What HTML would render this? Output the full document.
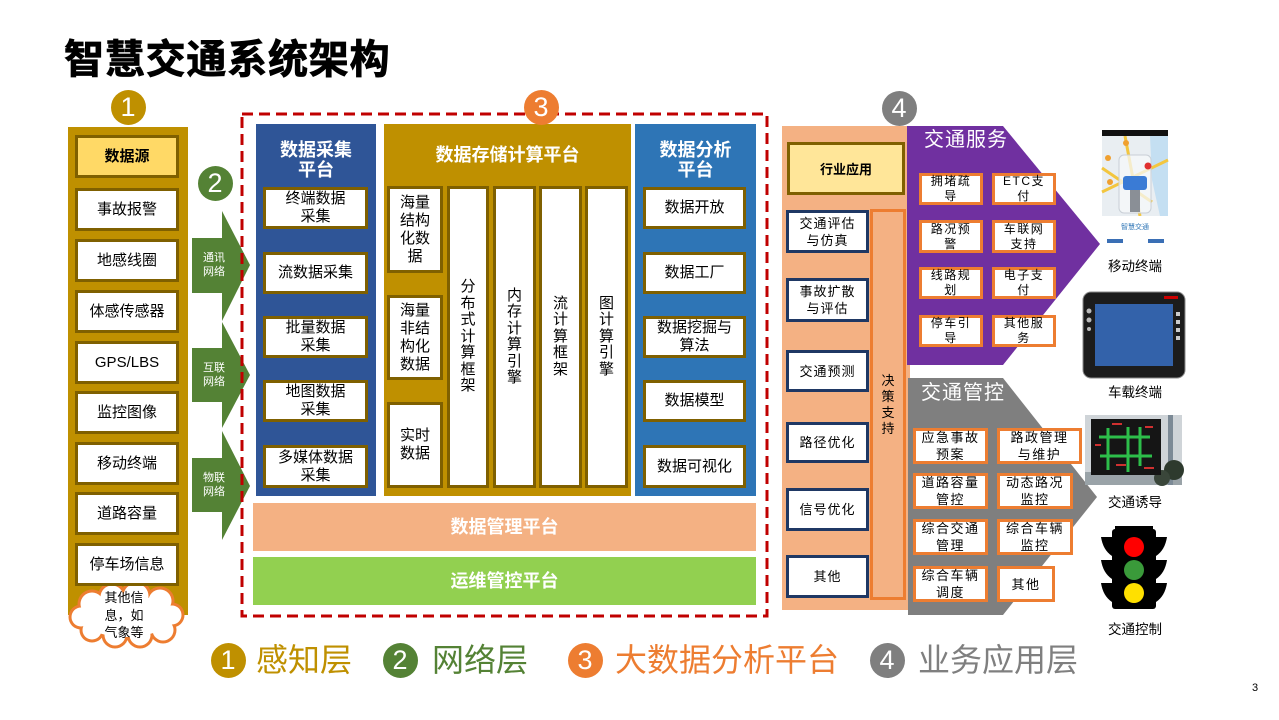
<!DOCTYPE html>
<html><head><meta charset="utf-8">
<style>
*{box-sizing:border-box}
body{margin:0;width:1279px;height:720px;position:relative;overflow:hidden;background:#fff;font-family:"Liberation Sans","Noto Sans CJK SC",sans-serif;color:#000}
.a{position:absolute;display:flex;align-items:center;justify-content:center;text-align:center;}
.lb{background:#fff;border:3px solid #7F6000;font-size:15px;line-height:18px}
.nb{background:#fff;border:3px solid #1F3864;font-size:13px;line-height:17px;letter-spacing:1px}
.ob{background:#fff;border:3px solid #ED7D31;font-size:12px;line-height:15px;letter-spacing:1.5px}
.gb{background:#fff;border:3px solid #ED7D31;font-size:13px;line-height:17px;letter-spacing:1.5px}
.c{position:absolute;border-radius:50%;color:#fff;font-size:27px;display:flex;align-items:center;justify-content:center;width:35px;height:35px;font-family:"Liberation Sans",sans-serif;line-height:35px}
.t{color:#fff;font-weight:bold;font-size:18px;line-height:20px}
.vt{font-size:15px;line-height:16.5px}
.lg{position:absolute;font-size:32px;line-height:40px;top:640px}
.il{position:absolute;font-size:13.5px;line-height:18px;width:80px;text-align:center}
</style></head><body>
<svg width="1279" height="720" style="position:absolute;left:0;top:0">
  <!-- left gold column -->
  <rect x="68" y="127" width="120" height="488" fill="#BF9000"/>
  <!-- green arrows -->
  <polygon points="192,238 222,238 222,211 250,265 222,321 222,293 192,293" fill="#548235"/>
  <polygon points="192,348 222,348 222,322 250,375 222,428 222,402 192,402" fill="#548235"/>
  <polygon points="192,458 222,458 222,431 250,486 222,540 222,512 192,512" fill="#548235"/>
  <!-- panels -->
  <rect x="256" y="124" width="120" height="372" fill="#2F5597"/>
  <rect x="384" y="124" width="247" height="372" fill="#BF9000"/>
  <rect x="635" y="124" width="121" height="372" fill="#2E75B6"/>
  <rect x="253" y="503" width="503" height="48" fill="#F4B183"/>
  <rect x="253" y="557" width="503" height="48" fill="#92D050"/>
  <!-- red dashed -->
  <rect x="242" y="114" width="525" height="502" fill="none" stroke="#C00000" stroke-width="3" stroke-dasharray="11 6"/>
  <!-- right orange panel -->
  <rect x="782" y="126" width="128" height="484" fill="#F4B183"/>
  <rect x="871.5" y="210.5" width="33" height="388" fill="#F4B183" stroke="#ED7D31" stroke-width="3"/>
  <!-- purple & gray pentagons -->
  <polygon points="907,126 1003,126 1100,244 1003,365 907,365" fill="#7030A0"/>
  <polygon points="908,378 1003,378 1097,497 1003,615 908,615" fill="#7F7F7F"/>
  <!-- cloud -->
  <g fill="#ED7D31">
    <circle cx="92" cy="604" r="14.5"/><circle cx="112" cy="597" r="14.5"/><circle cx="136" cy="596" r="15.5"/><circle cx="160" cy="601" r="14.5"/><circle cx="172" cy="615" r="12.5"/><circle cx="163" cy="630" r="13.5"/><circle cx="140" cy="635" r="13.5"/><circle cx="115" cy="635" r="13.5"/><circle cx="92" cy="630" r="12.5"/><circle cx="81" cy="617" r="12.5"/>
  </g>
  <g fill="#fff">
    <circle cx="92" cy="604" r="11.5"/><circle cx="112" cy="597" r="11.5"/><circle cx="136" cy="596" r="12.5"/><circle cx="160" cy="601" r="11.5"/><circle cx="172" cy="615" r="9.5"/><circle cx="163" cy="630" r="10.5"/><circle cx="140" cy="635" r="10.5"/><circle cx="115" cy="635" r="10.5"/><circle cx="92" cy="630" r="9.5"/><circle cx="81" cy="617" r="9.5"/>
    <ellipse cx="126" cy="616" rx="46" ry="21"/>
  </g>
  <!-- mobile image -->
  <rect x="1102" y="130" width="66" height="118" fill="#F2F4F6"/>
  <rect x="1102" y="136" width="66" height="80" fill="#E9EEF2"/>
  <polygon points="1150,136 1168,136 1168,216 1160,216 1152,180" fill="#C4DFF2"/>
  <g stroke="#F3C63F" stroke-width="3" fill="none">
    <line x1="1102" y1="192" x2="1168" y2="160"/>
    <line x1="1125" y1="136" x2="1140" y2="216"/>
    <line x1="1102" y1="168" x2="1152" y2="202"/>
  </g>
  <rect x="1102" y="130" width="66" height="6" fill="#111"/>
  <circle cx="1126" cy="143" r="3" fill="#F0A030"/><circle cx="1108" cy="158" r="3" fill="#F0A030"/><circle cx="1110" cy="182" r="3" fill="#F0A030"/>
  <rect x="1119" y="155" width="32" height="58" rx="5" fill="#F6F8FA" fill-opacity="0.75" stroke="#C9CFD6"/>
  <rect x="1130" y="190" width="10" height="22" fill="#8A8F96"/>
  <rect x="1123" y="176" width="24" height="14" rx="3" fill="#3A7BD5"/>
  <circle cx="1148" cy="166" r="3.5" fill="#E03030"/>
  <rect x="1102" y="216" width="66" height="32" fill="#fff"/>
  <text x="1135" y="229" font-size="7" fill="#2E75B6" text-anchor="middle" font-family="Noto Sans CJK SC, sans-serif">智慧交通</text>
  <rect x="1107" y="239" width="16" height="4" fill="#3A6FB5"/><rect x="1148" y="239" width="16" height="4" fill="#3A6FB5"/>
  <!-- car terminal -->
  <rect x="1083" y="292" width="102" height="86" rx="8" fill="#1c1c1c" stroke="#8a8a8a"/>
  <rect x="1095" y="304" width="78" height="62" fill="#2C5AA0"/>
  <rect x="1095" y="304" width="78" height="62" fill="#3E6FB8" fill-opacity="0.4"/>
  <circle cx="1089" cy="311" r="2.5" fill="#bbb"/><circle cx="1089" cy="320" r="2.5" fill="#bbb"/><circle cx="1089" cy="329" r="2" fill="#bbb"/>
  <rect x="1176" y="312" width="4" height="4" fill="#ccc"/><rect x="1176" y="320" width="4" height="4" fill="#ccc"/><rect x="1176" y="328" width="4" height="4" fill="#ccc"/><rect x="1176" y="336" width="4" height="4" fill="#ccc"/>
  <rect x="1164" y="296" width="14" height="3" fill="#c00"/>
  <!-- traffic guidance -->
  <rect x="1085" y="415" width="97" height="70" fill="#CFD4D8"/>
  <rect x="1085" y="472" width="97" height="13" fill="#9AA3A8"/>
  <rect x="1168" y="415" width="5" height="70" fill="#7C8A96"/>
  <circle cx="1174" cy="470" r="10" fill="#2E3A2E"/><circle cx="1162" cy="478" r="8" fill="#3A463A"/>
  <rect x="1091" y="419" width="70" height="56" fill="#151515"/>
  <g stroke="#2DBE4A" stroke-width="3" fill="none">
    <line x1="1099" y1="437" x2="1150" y2="437"/>
    <line x1="1100" y1="456" x2="1152" y2="456"/>
    <line x1="1108" y1="428" x2="1108" y2="470"/>
    <line x1="1128" y1="427" x2="1128" y2="472"/>
    <line x1="1140" y1="427" x2="1140" y2="466"/>
  </g>
  <g fill="#D03030"><rect x="1112" y="423" width="10" height="2"/><rect x="1145" y="426" width="8" height="2"/><rect x="1095" y="444" width="6" height="2"/><rect x="1116" y="464" width="10" height="2"/><rect x="1144" y="467" width="10" height="2"/></g>
  <!-- traffic light -->
  <g fill="#000">
    <rect x="1112" y="529" width="44" height="80" rx="3"/>
    <rect x="1115" y="526" width="38" height="4"/>
    <path d="M1112,537 L1101,537 Q1103,550 1112,556 Z"/>
    <path d="M1112,560 L1101,560 Q1103,573 1112,579 Z"/>
    <path d="M1112,583 L1101,583 Q1103,596 1112,602 Z"/>
    <path d="M1156,537 L1167,537 Q1165,550 1156,556 Z"/>
    <path d="M1156,560 L1167,560 Q1165,573 1156,579 Z"/>
    <path d="M1156,583 L1167,583 Q1165,596 1156,602 Z"/>
  </g>
  <circle cx="1134" cy="547" r="10" fill="#FF0000"/>
  <circle cx="1134" cy="570" r="10" fill="#3A9A3A"/>
  <circle cx="1134" cy="593" r="10" fill="#FFE000"/>
</svg>

<!-- title -->
<div style="position:absolute;left:64px;top:35px;height:51px;line-height:51px;font-size:40px;font-weight:bold;letter-spacing:0.8px;-webkit-text-stroke:0.8px #000">智慧交通系统架构</div>

<!-- badges -->
<div class="c" style="left:110.5px;top:90px;background:#BF9000">1</div>
<div class="c" style="left:197.5px;top:165.5px;background:#548235">2</div>
<div class="c" style="left:523.5px;top:89.5px;background:#ED7D31">3</div>
<div class="c" style="left:881.5px;top:90.5px;background:#7F7F7F">4</div>

<!-- left column -->
<div class="a lb" style="left:75px;top:135px;width:104px;height:43px;background:#FFD966;font-weight:bold">数据源</div>
<div class="a lb" style="left:75px;top:188px;width:104px;height:43px">事故报警</div>
<div class="a lb" style="left:75px;top:239px;width:104px;height:43px">地感线圈</div>
<div class="a lb" style="left:75px;top:290px;width:104px;height:43px">体感传感器</div>
<div class="a lb" style="left:75px;top:341px;width:104px;height:43px">GPS/LBS</div>
<div class="a lb" style="left:75px;top:391px;width:104px;height:43px">监控图像</div>
<div class="a lb" style="left:75px;top:442px;width:104px;height:43px">移动终端</div>
<div class="a lb" style="left:75px;top:492px;width:104px;height:43px">道路容量</div>
<div class="a lb" style="left:75px;top:543px;width:104px;height:43px">停车场信息</div>
<div class="a" style="left:92px;top:589px;width:64px;height:53px;font-size:13px;line-height:17.5px">其他信<br>息，如<br>气象等</div>

<!-- arrow labels -->
<div class="a" style="left:196px;top:251px;width:36px;height:28px;color:#fff;font-size:11px;line-height:14px">通讯<br>网络</div>
<div class="a" style="left:196px;top:361px;width:36px;height:28px;color:#fff;font-size:11px;line-height:14px">互联<br>网络</div>
<div class="a" style="left:196px;top:471px;width:36px;height:28px;color:#fff;font-size:11px;line-height:14px">物联<br>网络</div>

<!-- data collection -->
<div class="a t" style="left:256px;top:140px;width:120px;height:40px">数据采集<br>平台</div>
<div class="a lb" style="left:263px;top:187px;width:105px;height:42px">终端数据<br>采集</div>
<div class="a lb" style="left:263px;top:252px;width:105px;height:42px">流数据采集</div>
<div class="a lb" style="left:263px;top:316px;width:105px;height:42px">批量数据<br>采集</div>
<div class="a lb" style="left:263px;top:380px;width:105px;height:42px">地图数据<br>采集</div>
<div class="a lb" style="left:263px;top:445px;width:105px;height:43px">多媒体数据<br>采集</div>

<!-- storage -->
<div class="a t" style="left:384px;top:145px;width:247px;height:20px">数据存储计算平台</div>
<div class="a lb" style="left:387px;top:186px;width:56px;height:87px">海量<br>结构<br>化数<br>据</div>
<div class="a lb" style="left:387px;top:295px;width:56px;height:85px">海量<br>非结<br>构化<br>数据</div>
<div class="a lb" style="left:387px;top:402px;width:56px;height:86px">实时<br>数据</div>
<div class="a lb vt" style="left:447px;top:186px;width:42px;height:302px">分<br>布<br>式<br>计<br>算<br>框<br>架</div>
<div class="a lb vt" style="left:493px;top:186px;width:43px;height:302px">内<br>存<br>计<br>算<br>引<br>擎</div>
<div class="a lb vt" style="left:539px;top:186px;width:43px;height:302px">流<br>计<br>算<br>框<br>架</div>
<div class="a lb vt" style="left:585px;top:186px;width:43px;height:302px">图<br>计<br>算<br>引<br>擎</div>

<!-- analysis -->
<div class="a t" style="left:635px;top:140px;width:121px;height:40px">数据分析<br>平台</div>
<div class="a lb" style="left:643px;top:187px;width:103px;height:42px">数据开放</div>
<div class="a lb" style="left:643px;top:252px;width:103px;height:42px">数据工厂</div>
<div class="a lb" style="left:643px;top:316px;width:103px;height:42px">数据挖掘与<br>算法</div>
<div class="a lb" style="left:643px;top:380px;width:103px;height:42px">数据模型</div>
<div class="a lb" style="left:643px;top:445px;width:103px;height:43px">数据可视化</div>

<div class="a t" style="left:253px;top:503px;width:503px;height:48px">数据管理平台</div>
<div class="a t" style="left:253px;top:557px;width:503px;height:48px">运维管控平台</div>

<!-- right orange -->
<div class="a" style="left:787px;top:142px;width:118px;height:53px;background:#FFE699;border:3px solid #7F6000;font-size:13px;font-weight:bold">行业应用</div>
<div class="a nb" style="left:786px;top:210px;width:83px;height:43px">交通评估<br>与仿真</div>
<div class="a nb" style="left:786px;top:278px;width:83px;height:44px">事故扩散<br>与评估</div>
<div class="a nb" style="left:786px;top:350px;width:83px;height:42px">交通预测</div>
<div class="a nb" style="left:786px;top:422px;width:83px;height:41px">路径优化</div>
<div class="a nb" style="left:786px;top:488px;width:83px;height:43px">信号优化</div>
<div class="a nb" style="left:786px;top:555px;width:83px;height:43px">其他</div>
<div class="a" style="left:871px;top:210px;width:34px;height:389px;font-size:13px;line-height:16px">决<br>策<br>支<br>持</div>

<!-- purple -->
<div style="position:absolute;left:924px;top:127px;height:26px;line-height:26px;font-size:20px;color:#fff;letter-spacing:1px">交通服务</div>
<div class="a ob" style="left:919px;top:173px;width:64px;height:32px">拥堵疏<br>导</div>
<div class="a ob" style="left:992px;top:173px;width:64px;height:32px">ETC支<br>付</div>
<div class="a ob" style="left:919px;top:220px;width:64px;height:33px">路况预<br>警</div>
<div class="a ob" style="left:992px;top:220px;width:64px;height:33px">车联网<br>支持</div>
<div class="a ob" style="left:919px;top:267px;width:64px;height:32px">线路规<br>划</div>
<div class="a ob" style="left:992px;top:267px;width:64px;height:32px">电子支<br>付</div>
<div class="a ob" style="left:919px;top:315px;width:64px;height:32px">停车引<br>导</div>
<div class="a ob" style="left:992px;top:315px;width:64px;height:32px">其他服<br>务</div>

<!-- gray -->
<div style="position:absolute;left:921px;top:380px;height:26px;line-height:26px;font-size:20px;color:#fff;letter-spacing:1px">交通管控</div>
<div class="a gb" style="left:913px;top:428px;width:75px;height:36px">应急事故<br>预案</div>
<div class="a gb" style="left:997px;top:428px;width:85px;height:36px">路政管理<br>与维护</div>
<div class="a gb" style="left:913px;top:473px;width:75px;height:36px">道路容量<br>管控</div>
<div class="a gb" style="left:997px;top:473px;width:76px;height:36px">动态路况<br>监控</div>
<div class="a gb" style="left:913px;top:519px;width:75px;height:36px">综合交通<br>管理</div>
<div class="a gb" style="left:997px;top:519px;width:76px;height:36px">综合车辆<br>监控</div>
<div class="a gb" style="left:913px;top:566px;width:75px;height:36px">综合车辆<br>调度</div>
<div class="a gb" style="left:997px;top:566px;width:58px;height:36px">其他</div>

<!-- image labels -->
<div class="il" style="left:1095px;top:258px">移动终端</div>
<div class="il" style="left:1095px;top:384px">车载终端</div>
<div class="il" style="left:1095px;top:494px">交通诱导</div>
<div class="il" style="left:1095px;top:621px">交通控制</div>

<!-- legend -->
<div class="c" style="left:210.5px;top:642.5px;background:#BF9000">1</div>
<div class="lg" style="left:256px;color:#BF9000">感知层</div>
<div class="c" style="left:382.5px;top:642.5px;background:#548235">2</div>
<div class="lg" style="left:432px;color:#548235">网络层</div>
<div class="c" style="left:567.5px;top:642.5px;background:#ED7D31">3</div>
<div class="lg" style="left:615px;color:#ED7D31">大数据分析平台</div>
<div class="c" style="left:869.5px;top:642.5px;background:#7F7F7F">4</div>
<div class="lg" style="left:918px;color:#7F7F7F">业务应用层</div>

<div style="position:absolute;left:1252px;top:681px;font-size:11px;line-height:14px">3</div>
</body></html>
